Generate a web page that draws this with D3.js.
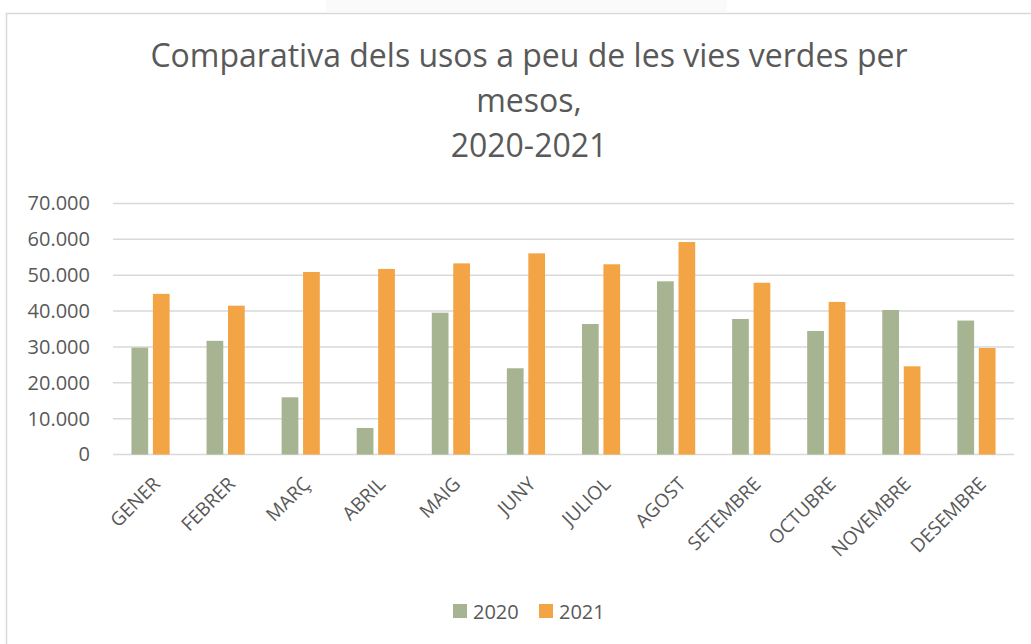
<!DOCTYPE html>
<html>
<head>
<meta charset="utf-8">
<script src="https://cdn.jsdelivr.net/npm/d3@7"></script>
<style>
    body { margin: 0; background: #fff; }
    text { font-family: "Open Sans", "Noto Sans", sans-serif; fill: #595959; }
</style>
</head>
<body>
<div id="chart"></div>
<script>
// Dades del gràfic
const months = ["GENER", "FEBRER", "MARÇ", "ABRIL", "MAIG", "JUNY", "JULIOL", "AGOST", "SETEMBRE", "OCTUBRE", "NOVEMBRE", "DESEMBRE"];
const years = ["2020", "2021"];
const values2020 = [29800, 31700, 15950, 7400, 39550, 24050, 36400, 48300, 37800, 34450, 40300, 37350];
const values2021 = [44800, 41500, 50900, 51750, 53300, 56100, 53050, 59250, 47900, 42550, 24600, 29700];
const yTicks = [0, 10000, 20000, 30000, 40000, 50000, 60000, 70000];
const titleLines = ["Comparativa dels usos a peu de les vies verdes per", "mesos,", "2020-2021"];
const colors = ["#a6b491", "#f3a445"];

const width = 1031;
const height = 644;
const plot = { left: 113, right: 1014, top: 203.5, bottom: 454.5 };

const svg = d3.select("#chart")
    .append("svg")
    .attr("width", width)
    .attr("height", height);

// Marc del gràfic
svg.append("rect")
    .attr("x", 326).attr("y", 0)
    .attr("width", 401).attr("height", 12)
    .attr("fill", "#fafafa");

svg.append("path")
    .attr("d", `M6.5,${height} V13.5 H${width}`)
    .attr("fill", "none")
    .attr("stroke", "#d9d9d9")
    .attr("stroke-width", 1.5);

// Títol
svg.append("g")
    .selectAll("text")
    .data(titleLines)
    .enter()
    .append("text")
    .attr("x", 529)
    .attr("y", (d, i) => 66.5 + i * 45)
    .attr("text-anchor", "middle")
    .style("font-size", "32px")
    .text(d => d);

// Escales
const x0 = d3.scaleBand()
    .domain(months)
    .range([plot.left, plot.right])
    .padding(0);

const x1 = d3.scaleBand()
    .domain(years)
    .range([0, x0.bandwidth()])
    .paddingInner(0.22)
    .paddingOuter(0.86);

const y = d3.scaleLinear()
    .domain([0, 70000])
    .range([plot.bottom, plot.top]);

const locale = d3.formatLocale({ decimal: ",", thousands: ".", grouping: [3], currency: ["", "€"] });
const fmt = locale.format(",");

// Línies de la graella
svg.append("g")
    .selectAll("line")
    .data(yTicks)
    .enter()
    .append("line")
    .attr("x1", plot.left)
    .attr("x2", plot.right)
    .attr("y1", d => y(d))
    .attr("y2", d => y(d))
    .attr("stroke", "#d9d9d9")
    .attr("stroke-width", 1.5);

// Eix Y
const yAxis = svg.append("g")
    .attr("transform", `translate(90,0)`)
    .call(d3.axisLeft(y).tickValues(yTicks).tickFormat(fmt).tickSize(0).tickPadding(0));
yAxis.select(".domain").remove();
yAxis.selectAll("text")
    .attr("fill", "#595959")
    .style("font-size", "20px")
    .style("font-family", "'Open Sans', sans-serif");

// Barres
const series = [values2020, values2021];
const groups = svg.append("g")
    .selectAll("g")
    .data(months)
    .enter()
    .append("g")
    .attr("transform", d => `translate(${x0(d)},0)`);

groups.selectAll("rect")
    .data((d, i) => years.map((yr, k) => ({ year: yr, value: series[k][i], k })))
    .enter()
    .append("rect")
    .attr("x", d => x1(d.year))
    .attr("width", x1.bandwidth())
    .attr("y", d => y(d.value))
    .attr("height", d => y(0) - y(d.value))
    .attr("fill", d => colors[d.k]);

// Eix X (etiquetes girades)
const xAxis = svg.append("g")
    .attr("transform", `translate(0,${plot.bottom})`)
    .call(d3.axisBottom(x0).tickSize(0).tickPadding(0));
xAxis.select(".domain").remove();
xAxis.selectAll("text")
    .attr("fill", "#595959")
    .style("font-size", "19px")
    .style("font-family", "'Open Sans', sans-serif")
    .attr("text-anchor", "end")
    .attr("dy", "0.35em")
    .attr("transform", "translate(6,26) rotate(-45)");

// Llegenda
const legend = svg.append("g")
    .selectAll("g")
    .data(years)
    .enter()
    .append("g")
    .attr("transform", (d, i) => `translate(${453 + i * 86},604)`);

legend.append("rect")
    .attr("width", 14)
    .attr("height", 14)
    .attr("fill", (d, i) => colors[i]);

legend.append("text")
    .attr("x", 20)
    .attr("y", 14.5)
    .style("font-size", "20px")
    .text(d => d);
</script>
</body>
</html>
